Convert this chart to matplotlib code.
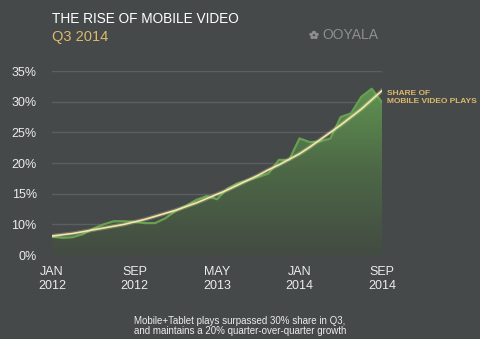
import numpy as np
import matplotlib.pyplot as plt
from matplotlib.patches import Circle
from matplotlib.colors import LinearSegmentedColormap

# Monthly share of mobile video plays, Jan 2012 .. Sep 2014 (percent)
months = np.arange(33)
share = [8.0, 7.8, 7.9, 8.4, 9.3, 10.0, 10.5, 10.5, 10.4, 10.2, 10.2,
         11.0, 12.2, 13.0, 14.0, 14.6, 14.1, 15.8, 16.7, 17.2, 17.7,
         18.3, 20.5, 20.5, 24.0, 23.4, 23.5, 24.0, 27.5, 28.1, 30.8,
         32.1, 29.9]
trend = [8.1, 8.3, 8.5, 8.8, 9.1, 9.4, 9.7, 10.0, 10.4, 10.8, 11.3,
         11.8, 12.3, 12.9, 13.5, 14.2, 14.9, 15.6, 16.4, 17.2, 18.0,
         18.9, 19.7, 20.6, 21.5, 22.6, 23.8, 25.0, 26.2, 27.5, 28.8,
         30.3, 31.8]

tick_pos = [0, 8, 16, 24, 32]
tick_labels = ['JAN\n2012', 'SEP\n2012', 'MAY\n2013', 'JAN\n2014', 'SEP\n2014']
# the axis starts at a 5% floor, shown as 0%
y_ticks = [5, 10, 15, 20, 25, 30, 35]
y_labels = ['0%', '10%', '15%', '20%', '25%', '30%', '35%']

BG = '#46494a'
GRID = '#5c5f61'
GOLD = '#dcb96c'
TXT = '#ececec'
plt.rcParams['font.family'] = ['Liberation Sans', 'DejaVu Sans']

fig = plt.figure(figsize=(4.81, 3.39), dpi=100, facecolor=BG)
ax = fig.add_axes([52 / 481, 84 / 339, 330 / 481, 184 / 339])
ax.set_facecolor(BG)
ax.set_xlim(0, 32)
ax.set_ylim(5, 35)
for s in ax.spines.values():
    s.set_visible(False)

for y in y_ticks:
    ax.axhline(y, color=GRID, lw=1.0, zorder=1)

# gradient fill under the share line
fill = ax.fill_between(months, share, 5, color='none', zorder=2)
grad = np.linspace(0, 1, 256).reshape(-1, 1)
cmap = LinearSegmentedColormap.from_list('g', ['#434b42', '#4d6846', '#609552'])
img = ax.imshow(grad, cmap=cmap, aspect='auto', origin='lower',
                extent=[0, 32, 5, 33], zorder=2)
img.set_clip_path(fill.get_paths()[0], transform=ax.transData)

ax.plot(months, share, color='#66a050', lw=1.6, zorder=3)
ax.plot(months, trend, color='#f3ebb0', lw=3.0, alpha=0.25, zorder=4)
ax.plot(months, trend, color='#f1e8a8', lw=1.2, zorder=5)

ax.set_xticks(tick_pos)
ax.set_xticklabels(tick_labels, color=TXT, fontsize=9, linespacing=1.2)
ax.set_yticks(y_ticks)
ax.set_yticklabels(y_labels, color=TXT, fontsize=9)
ax.tick_params(axis='x', length=0, pad=8)
ax.tick_params(axis='y', length=0, pad=11)

ax.text(32.5, 31.9, 'SHARE OF\nMOBILE VIDEO PLAYS', color=GOLD, fontsize=6,
        fontweight='bold', va='top', ha='left', linespacing=1.2)

fig.text(52 / 481, 1 - 19 / 339, 'THE RISE OF MOBILE VIDEO', color='white',
         fontsize=9.8, va='center', ha='left')
fig.text(52 / 481, 1 - 36.5 / 339, 'Q3 2014', color=GOLD, fontsize=10.5,
         va='center', ha='left')

# logo
fig.text(322 / 481, 1 - 35 / 339, 'OOYALA', color='#8d8f91', fontsize=10,
         va='center', ha='left')
for dx, dy in [(0, 2.6), (-2.7, 0.6), (2.7, 0.6), (-1.7, -2.4), (1.7, -2.4)]:
    fig.add_artist(Circle(((314 + dx) / 481, (339 - 35 + dy) / 339), 1.3 / 481,
                          transform=fig.transFigure, color='#8d8f91'))

fig.text(240 / 481, 1 - 326 / 339,
         'Mobile+Tablet plays surpassed 30% share in Q3,\n'
         'and maintains a 20% quarter-over-quarter growth',
         color=TXT, fontsize=7, ha='center', va='center', linespacing=1.1)

fig.savefig('out.png', dpi=100, facecolor=BG)
